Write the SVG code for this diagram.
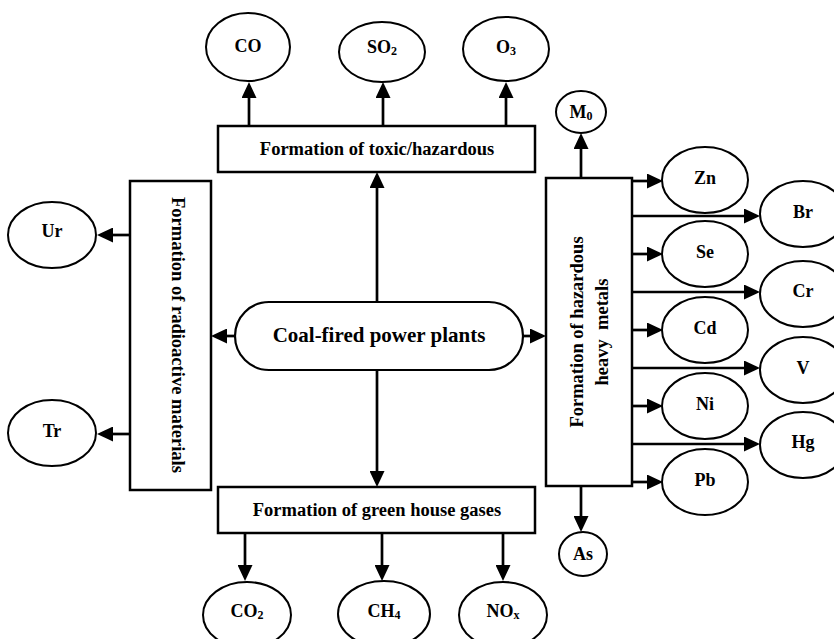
<svg xmlns="http://www.w3.org/2000/svg" width="834" height="639" viewBox="0 0 834 639">
<defs>
<style>
.box{fill:#fff;stroke:#000;stroke-width:2.5}
.el{fill:#fff;stroke:#000;stroke-width:2}
.lbl{font-family:"Liberation Serif","Times New Roman",serif;font-weight:bold;font-size:18px;text-anchor:middle;fill:#000}
.btx{font-family:"Liberation Serif","Times New Roman",serif;font-weight:bold;font-size:18.5px;text-anchor:middle;fill:#000}
.main{font-family:"Liberation Serif","Times New Roman",serif;font-weight:bold;font-size:21px;text-anchor:middle;fill:#000}
.sub{font-size:12px}
.ln{stroke:#000;stroke-width:2.7;fill:none;marker-end:url(#ah)}
</style>
<marker id="ah" markerUnits="userSpaceOnUse" markerWidth="16" markerHeight="15" refX="10" refY="7.5" orient="auto">
<path d="M0,0 L16,7.5 L0,15 Z" fill="#000"/>
</marker>
</defs>
<rect width="834" height="639" fill="#fff"/>

<g id="connectors">
<line class="ln" x1="377" y1="302" x2="377" y2="178"/>
<line class="ln" x1="377" y1="370" x2="377" y2="481"/>
<line class="ln" x1="235" y1="336" x2="217" y2="336"/>
<line class="ln" x1="523" y1="336" x2="540" y2="336"/>
<line class="ln" x1="249" y1="126" x2="249" y2="88"/>
<line class="ln" x1="383" y1="126" x2="383" y2="88"/>
<line class="ln" x1="506" y1="126" x2="506" y2="88"/>
<line class="ln" x1="130" y1="235" x2="103" y2="235"/>
<line class="ln" x1="130" y1="434" x2="103" y2="434"/>
<line class="ln" x1="581" y1="178" x2="581" y2="139"/>
<line class="ln" x1="581" y1="486" x2="581" y2="526"/>
<line class="ln" x1="632" y1="181" x2="657" y2="181"/>
<line class="ln" x1="632" y1="254" x2="657" y2="254"/>
<line class="ln" x1="632" y1="330" x2="657" y2="330"/>
<line class="ln" x1="632" y1="406" x2="657" y2="406"/>
<line class="ln" x1="632" y1="482" x2="657" y2="482"/>
<line class="ln" x1="632" y1="216" x2="754" y2="216"/>
<line class="ln" x1="632" y1="292" x2="754" y2="292"/>
<line class="ln" x1="632" y1="368" x2="754" y2="368"/>
<line class="ln" x1="632" y1="444" x2="754" y2="444"/>
<line class="ln" x1="245" y1="533" x2="245" y2="575"/>
<line class="ln" x1="382" y1="533" x2="382" y2="575"/>
<line class="ln" x1="503" y1="533" x2="503" y2="575"/>
</g>

<g id="center">
<rect class="box" x="235" y="302" width="288" height="68" rx="34" ry="34" style="stroke-width:2.2"/>
<text class="main" x="379" y="342">Coal-fired power plants</text>
</g>

<g id="toxic">
<rect class="box" x="218" y="126" width="317" height="46"/>
<text class="btx" x="377" y="155">Formation of toxic/hazardous</text>
</g>

<g id="ghg">
<rect class="box" x="218" y="487" width="317" height="46"/>
<text class="btx" x="377" y="516">Formation of green house gases</text>
</g>

<g id="radio">
<rect class="box" x="130" y="181" width="81" height="309"/>
<text class="btx" transform="translate(172,335) rotate(90)" x="0" y="0">Formation of radioactive materials</text>
</g>

<g id="metals">
<rect class="box" x="546" y="178" width="86" height="308"/>
<text class="btx" transform="translate(583,332) rotate(-90)" x="0" y="0">Formation of hazardous</text>
<text class="btx" transform="translate(608,332) rotate(-90)" x="0" y="0">heavy&#160; metals</text>
</g>

<g id="n-co"><ellipse class="el" cx="248" cy="47" rx="42" ry="34"/><text class="lbl" x="248" y="52">CO</text></g>
<g id="n-so2"><ellipse class="el" cx="382" cy="52" rx="43" ry="30"/><text class="lbl" x="382" y="53">SO<tspan class="sub" dy="2">2</tspan></text></g>
<g id="n-o3"><ellipse class="el" cx="506" cy="49" rx="43" ry="32"/><text class="lbl" x="506" y="53">O<tspan class="sub" dy="2">3</tspan></text></g>

<g id="n-ur"><ellipse class="el" cx="52" cy="235" rx="44" ry="33"/><text class="lbl" x="52" y="237">Ur</text></g>
<g id="n-tr"><ellipse class="el" cx="52" cy="433" rx="44" ry="33"/><text class="lbl" x="52" y="437">Tr</text></g>

<g id="n-m0"><ellipse class="el" cx="581" cy="112" rx="25" ry="21"/><text class="lbl" x="581" y="118">M<tspan class="sub" dy="2">0</tspan></text></g>
<g id="n-as"><ellipse class="el" cx="583" cy="554" rx="24" ry="22"/><text class="lbl" x="583" y="560">As</text></g>

<g id="n-zn"><ellipse class="el" cx="705" cy="180" rx="43" ry="33"/><text class="lbl" x="705" y="184">Zn</text></g>
<g id="n-se"><ellipse class="el" cx="705" cy="254" rx="43" ry="33"/><text class="lbl" x="705" y="258">Se</text></g>
<g id="n-cd"><ellipse class="el" cx="705" cy="330" rx="43" ry="33"/><text class="lbl" x="705" y="334">Cd</text></g>
<g id="n-ni"><ellipse class="el" cx="705" cy="406" rx="43" ry="33"/><text class="lbl" x="705" y="410">Ni</text></g>
<g id="n-pb"><ellipse class="el" cx="705" cy="482" rx="43" ry="33"/><text class="lbl" x="705" y="486">Pb</text></g>

<g id="n-br"><ellipse class="el" cx="803" cy="214" rx="43" ry="33"/><text class="lbl" x="803" y="218">Br</text></g>
<g id="n-cr"><ellipse class="el" cx="803" cy="294" rx="43" ry="33"/><text class="lbl" x="803" y="297">Cr</text></g>
<g id="n-v"><ellipse class="el" cx="803" cy="370" rx="43" ry="33"/><text class="lbl" x="803" y="374">V</text></g>
<g id="n-hg"><ellipse class="el" cx="803" cy="445" rx="43" ry="33"/><text class="lbl" x="803" y="448">Hg</text></g>

<g id="n-co2"><ellipse class="el" cx="247" cy="615" rx="44" ry="33"/><text class="lbl" x="247" y="617">CO<tspan class="sub" dy="2">2</tspan></text></g>
<g id="n-ch4"><ellipse class="el" cx="384" cy="614" rx="46" ry="33"/><text class="lbl" x="384" y="617">CH<tspan class="sub" dy="2">4</tspan></text></g>
<g id="n-nox"><ellipse class="el" cx="503" cy="615" rx="44" ry="33"/><text class="lbl" x="503" y="617">NO<tspan class="sub" dy="2">x</tspan></text></g>
</svg>
